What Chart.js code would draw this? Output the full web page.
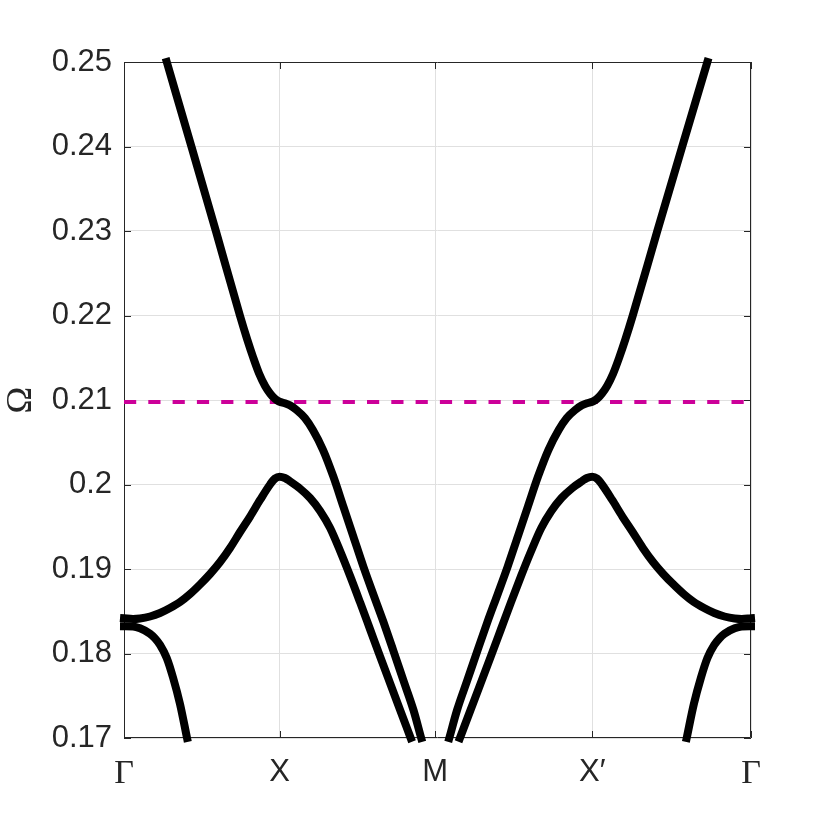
<!DOCTYPE html>
<html>
<head>
<meta charset="utf-8">
<script src="https://cdn.jsdelivr.net/npm/chart.js@4.4.1/dist/chart.umd.min.js"></script>
<style>
  html, body { margin: 0; padding: 0; background: #fff; }
  #wrap { width: 830px; height: 830px; }
</style>
</head>
<body>
<div id="wrap"><canvas id="bands" width="830" height="830"></canvas></div>
<script>
// ---------- Data ----------
// path coordinate along the k-path: Γ = 0, X = 1, M = 2, X' = 3.01, Γ = 4.03
const kTicks = [0, 1, 2, 3.01, 4.03];
const kLabels = ['Γ', 'X', 'M', 'X′', 'Γ'];
const omegaTicks = [0.17, 0.18, 0.19, 0.20, 0.21, 0.22, 0.23, 0.24, 0.25];
const omegaLabels = ['0.17', '0.18', '0.19', '0.2', '0.21', '0.22', '0.23', '0.24', '0.25'];

// [k, Ω] pairs, each branch as it appears between the axis limits
const band1Left = [
  [0.275, 0.2500], [0.4354, 0.23987], [0.5916, 0.22992], [0.7460, 0.21994], [0.7910, 0.21722],
  [0.8315, 0.21497], [0.8682, 0.21314], [0.9068, 0.21166], [0.9389, 0.21077], [0.9646, 0.21024],
  [0.9839, 0.20996], [1.0, 0.20980], [1.0341, 0.20962], [1.0662, 0.20937], [1.1093, 0.20882],
  [1.1627, 0.20787], [1.2141, 0.20645], [1.2797, 0.20408], [1.3441, 0.20101], [1.4103, 0.19737],
  [1.4746, 0.19382], [1.5389, 0.19027], [1.6032, 0.18698], [1.6675, 0.18373], [1.7318, 0.18030],
  [1.7961, 0.17680], [1.8605, 0.17331], [1.9100, 0.1700]
];
const band1Right = [
  [2.0909, 0.1700], [2.1409, 0.17331], [2.2059, 0.17680], [2.2709, 0.18030], [2.3358, 0.18373],
  [2.4008, 0.18698], [2.4657, 0.19027], [2.5307, 0.19382], [2.5956, 0.19737], [2.6625, 0.20101],
  [2.7275, 0.20408], [2.7938, 0.20645], [2.8457, 0.20787], [2.8996, 0.20882], [2.9431, 0.20937],
  [2.9756, 0.20962], [3.01, 0.20980], [3.0264, 0.20996], [3.0461, 0.21024], [3.0723, 0.21077],
  [3.1051, 0.21166], [3.1444, 0.21314], [3.1819, 0.21497], [3.2232, 0.21722], [3.2691, 0.21994],
  [3.4266, 0.22992], [3.5859, 0.23987], [3.7495, 0.2500]
];
const band2Left = [
  [0, 0.18417], [0.0579, 0.18408], [0.1029, 0.18414], [0.1672, 0.18438], [0.2315, 0.18479],
  [0.2958, 0.18538], [0.3601, 0.18609], [0.4244, 0.18704], [0.4887, 0.18817], [0.5531, 0.18941],
  [0.6174, 0.19083], [0.6817, 0.19249], [0.7460, 0.19438], [0.8103, 0.19621], [0.8746, 0.19817],
  [0.9389, 0.20000], [0.9711, 0.20071], [1.0, 0.20092], [1.0341, 0.20077], [1.0662, 0.20039],
  [1.1305, 0.19953], [1.1961, 0.19840], [1.2605, 0.19686], [1.3248, 0.19485], [1.3891, 0.19213],
  [1.4534, 0.18917], [1.5177, 0.18604], [1.5820, 0.18284], [1.6463, 0.17964], [1.7106, 0.17647],
  [1.7749, 0.17331], [1.8424, 0.1700]
];
const band2Right = [
  [2.1592, 0.1700], [2.2273, 0.17331], [2.2923, 0.17647], [2.3572, 0.17964], [2.4222, 0.18284],
  [2.4871, 0.18604], [2.5521, 0.18917], [2.6170, 0.19213], [2.6820, 0.19485], [2.7469, 0.19686],
  [2.8119, 0.19840], [2.8782, 0.19953], [2.9431, 0.20039], [2.9756, 0.20077], [3.01, 0.20092],
  [3.0395, 0.20071], [3.0723, 0.20000], [3.1379, 0.19817], [3.2035, 0.19621], [3.2691, 0.19438],
  [3.3347, 0.19249], [3.4002, 0.19083], [3.4658, 0.18941], [3.5315, 0.18817], [3.5971, 0.18704],
  [3.6627, 0.18609], [3.7283, 0.18538], [3.7939, 0.18479], [3.8595, 0.18438], [3.9250, 0.18414],
  [3.9709, 0.18408], [4.03, 0.18417]
];
const band3Left = [
  [0, 0.18322], [0.0579, 0.18320], [0.1029, 0.18298], [0.1672, 0.18234], [0.1994, 0.18178],
  [0.2315, 0.18101], [0.2746, 0.17947], [0.3151, 0.17716], [0.3601, 0.17402], [0.4051, 0.1700]
];
const band3Right = [
  [3.6168, 0.1700], [3.6627, 0.17402], [3.7086, 0.17716], [3.7499, 0.17947], [3.7939, 0.18101],
  [3.8266, 0.18178], [3.8595, 0.18234], [3.9250, 0.18298], [3.9709, 0.18320], [4.03, 0.18322]
];
// horizontal dashed reference level
const flatOmega = 0.20975;

// ---------- Helpers ----------
const AXIS_COLOR = '#262626';
const GRID_COLOR = '#e0e0e0';
const toPoints = pairs => pairs.map(([x, y]) => ({ x, y }));

const bandDataset = pairs => ({
  data: toPoints(pairs),
  showLine: true,
  borderColor: '#000',
  borderWidth: 8,
  borderCapStyle: 'square',
  pointRadius: 0,
  cubicInterpolationMode: 'monotone',
  clip: 10
});

// box around the plot with inward ticks (MATLAB style)
const framePlugin = {
  id: 'frame',
  beforeDatasetsDraw(chart) {
    const { ctx, chartArea: a, scales: { x, y } } = chart;
    const len = 7;
    ctx.save();
    ctx.strokeStyle = AXIS_COLOR;
    ctx.lineWidth = 1;
    ctx.beginPath();
    ctx.rect(a.left + 0.5, a.top + 0.5, a.right - a.left - 1, a.bottom - a.top - 1);
    kTicks.forEach(v => {
      const px = Math.round(x.getPixelForValue(v)) + 0.5;
      ctx.moveTo(px, a.bottom); ctx.lineTo(px, a.bottom - len);
      ctx.moveTo(px, a.top); ctx.lineTo(px, a.top + len);
    });
    omegaTicks.forEach(v => {
      const py = Math.round(y.getPixelForValue(v)) + 0.5;
      ctx.moveTo(a.left, py); ctx.lineTo(a.left + len, py);
      ctx.moveTo(a.right, py); ctx.lineTo(a.right - len, py);
    });
    ctx.stroke();
    ctx.restore();
  }
};

// ---------- Chart ----------
const ctx = document.getElementById('bands').getContext('2d');
new Chart(ctx, {
  type: 'scatter',
  data: {
    datasets: [
      bandDataset(band1Left),
      bandDataset(band1Right),
      bandDataset(band2Left),
      bandDataset(band2Right),
      bandDataset(band3Left),
      bandDataset(band3Right),
      {
        data: [{ x: kTicks[0], y: flatOmega }, { x: kTicks[kTicks.length - 1], y: flatOmega }],
        showLine: true,
        borderColor: '#cc0099',
        borderWidth: 4,
        borderDash: [12.2, 12.1],
        borderCapStyle: 'butt',
        pointRadius: 0
      }
    ]
  },
  options: {
    responsive: false,
    animation: false,
    layout: { padding: { left: 0, top: 62, right: 79, bottom: 0 } },
    plugins: { legend: { display: false }, tooltip: { enabled: false } },
    scales: {
      x: {
        type: 'linear',
        min: kTicks[0],
        max: kTicks[kTicks.length - 1],
        afterBuildTicks: scale => { scale.ticks = kTicks.map(v => ({ value: v })); },
        afterFit: scale => { scale.height = 92; },
        grid: { color: GRID_COLOR, lineWidth: 1, drawTicks: false },
        border: { display: false },
        ticks: {
          padding: 16,
          maxRotation: 0,
          autoSkip: false,
          color: AXIS_COLOR,
          callback: (value, index) => kLabels[index],
          font: c => kLabels[c.index] === 'Γ'
            ? { family: 'Liberation Serif', size: 34 }
            : { family: 'Liberation Sans', size: 31 }
        }
      },
      y: {
        type: 'linear',
        min: omegaTicks[0],
        max: omegaTicks[omegaTicks.length - 1],
        afterBuildTicks: scale => { scale.ticks = omegaTicks.map(v => ({ value: v })); },
        afterFit: scale => { scale.width = 124; },
        grid: { color: GRID_COLOR, lineWidth: 1, drawTicks: false },
        border: { display: false },
        ticks: {
          padding: 12,
          autoSkip: false,
          color: AXIS_COLOR,
          font: { family: 'Liberation Sans', size: 31 },
          callback: (value, index) => omegaLabels[index]
        },
        title: {
          display: true,
          text: 'Ω',
          color: AXIS_COLOR,
          padding: 0,
          font: { family: 'Liberation Serif', size: 36 }
        }
      }
    }
  },
  plugins: [framePlugin]
});
</script>
</body>
</html>
